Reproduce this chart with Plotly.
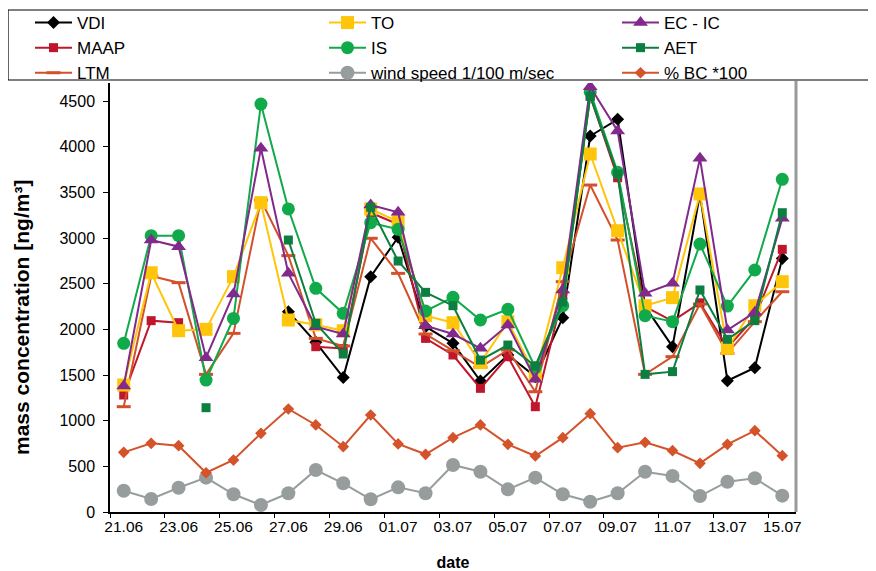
import plotly.graph_objects as go

dates = ["21.06", "22.06", "23.06", "24.06", "25.06", "26.06", "27.06", "28.06", "29.06", "30.06",
         "01.07", "02.07", "03.07", "04.07", "05.07", "06.07", "07.07", "08.07", "09.07", "10.07",
         "11.07", "12.07", "13.07", "14.07", "15.07"]

vdi = [None, None, None, None, None, None, 2193, 1858, 1474, 2577, 3008, 2029, 1847, 1434, 1719,
       1482, 2128, 4117, 4300, 2248, 1810, 3480, 1438, 1580, 2777]
to = [1390, 2620, 1985, 2000, 2577, 3387, 2102, 2050, 1985, 3318, 3179, 2150, 2073, 1635, 2084,
      1500, 2675, 3920, 3080, 2259, 2347, 3482, 1792, 2259, 2522]
ecic = [1380, 2978, 2905, 1690, 2387, 3982, 2613, 2029, 1949, 3361, 3281, 2040, 1949, 1792, 2047,
        1453, 2431, 4657, 4172, 2394, 2504, 3872, 1993, 2186, 3215]
maap = [1281, 2095, 2073, None, None, None, None, 1810, 1790, 3277, 3150, 1901, 1719, 1354, 1701,
        1153, 2370, 4555, 3660, 2250, 2090, 2290, 1800, 2130, 2876]
is_ = [1847, 3026, 3026, 1445, 2120, 4467, 3318, 2449, 2175, 3168, 3095, 2201, 2350, 2102, 2219,
       1580, 2259, 4600, 3720, 2150, 2084, 2934, 2255, 2650, 3643]
aet = [None, None, None, 1142, None, None, 2978, 2066, 1730, 3336, 2748, 2405, 2259, 1664, 1828,
       1599, 2300, 4550, 3700, 1507, 1537, 2431, 1891, 2095, 3277]
ltm = [1153, 2584, 2511, 1507, 1956, 3416, 2807, 1901, 1818, 2997, 2613, 1949, 1766, 1584, 1774,
       1317, 2522, 3580, 2978, 1507, 1701, 2277, 1737, 2084, 2412]
wind = [233, 142, 266, 376, 194, 77, 205, 460, 314, 139, 270, 205, 515, 441, 248, 376, 194, 113,
        205, 441, 394, 175, 332, 369, 179]
bc = [653, 752, 726, 430, 569, 861, 1128, 953, 715, 1062, 745, 632, 814, 953, 741, 613, 814, 1077,
      704, 763, 671, 533, 741, 890, 617]

y_ticks = [0, 500, 1000, 1500, 2000, 2500, 3000, 3500, 4000, 4500]

x = list(range(len(dates)))

# (name, data, color, symbol, size, legend column, rank) in drawing order
series = [
    ("VDI", vdi, "#000000", "diamond", 10, "legend", 1),
    ("MAAP", maap, "#C0162C", "square", 9, "legend", 2),
    ("LTM", ltm, "#D2502A", "line-ew", 10, "legend", 3),
    ("TO", to, "#FFC50A", "square", 13, "legend2", 1),
    ("IS", is_, "#10AA4A", "circle", 13, "legend2", 2),
    ("wind speed 1/100 m/sec", wind, "#979D9D", "circle", 14, "legend2", 3),
    ("EC - IC", ecic, "#82298C", "triangle-up", 13, "legend3", 1),
    ("AET", aet, "#0C7E40", "square", 9, "legend3", 2),
    ("% BC *100", bc, "#D4532A", "diamond", 9, "legend3", 3),
]

fig = go.Figure()
for name, data, color, sym, size, leg, rank in series:
    marker = dict(color=color, symbol=sym, size=size)
    if sym == "line-ew":
        marker = dict(color=color, symbol=sym, size=size, line=dict(color=color, width=3))
    fig.add_trace(go.Scatter(
        x=x, y=data, name=name, mode="lines+markers",
        line=dict(color=color, width=2), marker=marker,
        connectgaps=False, legend=leg, legendrank=rank,
    ))

# invisible trace on xaxis2 to carry the boundary tick marks
fig.add_trace(go.Scatter(x=[-0.5, 24.5], y=[None, None], xaxis="x2", showlegend=False,
                         hoverinfo="skip"))

OFF = 8  # page body margin
W, H = 876 - OFF, 571 - OFF
L, T = 110 - OFF, 83 - OFF
R = W - (796 - OFF)
B = H - (512 - OFF)
pw, ph = W - L - R, H - T - B

def px(xs):  # screenshot x -> paper x
    return (xs - OFF - L) / pw

def py(ys):  # screenshot y -> paper y
    return (H - B - (ys - OFF)) / ph

leg_common = dict(orientation="v", xanchor="left", yanchor="top", font=dict(size=17),
                  bgcolor="rgba(0,0,0,0)", borderwidth=0, itemwidth=37, tracegroupgap=0)

fig.update_layout(
    width=W, height=H,
    margin=dict(l=L, r=R, t=T, b=B, autoexpand=False),
    paper_bgcolor="white", plot_bgcolor="white",
    font=dict(family="Liberation Sans, Arial, sans-serif", size=15, color="#000000"),
    showlegend=True,
    legend=dict(x=px(30), y=py(5), **leg_common),
    legend2=dict(x=px(324), y=py(5), **leg_common),
    legend3=dict(x=px(617), y=py(5), **leg_common),
    xaxis=dict(
        range=[-0.5, 24.5], tickvals=x[::2], ticktext=dates[::2], ticks="",
        showline=True, linecolor="#000000", linewidth=1.5, showgrid=False, zeroline=False,
        tickfont=dict(size=15.5), automargin=False,
        title=dict(text="<b>date</b>", font=dict(size=16), standoff=23),
    ),
    xaxis2=dict(
        range=[-0.5, 24.5], overlaying="x", anchor="y", side="bottom",
        tickvals=[-0.5 + 2 * k for k in range(13)], ticks="outside", ticklen=5,
        tickcolor="#000000", tickwidth=1.2, showticklabels=False, showgrid=False,
        zeroline=False, showline=False, automargin=False,
    ),
    yaxis=dict(
        range=[0, ph / 0.09133], tickvals=y_ticks, ticks="outside", ticklen=5,
        tickcolor="#000000", showline=True, linecolor="#000000", linewidth=1.5,
        showgrid=False, zeroline=False, tickfont=dict(size=16), automargin=False,
        ticklabelstandoff=5,
    ),
    annotations=[
        dict(text="<b>mass concentration [ng/m³]</b>", xref="paper", yref="paper",
             x=px(21), y=py(318), xanchor="center", yanchor="middle", textangle=-90,
             showarrow=False, font=dict(size=21)),
    ],
    shapes=[
        dict(type="rect", xref="paper", yref="paper", x0=px(8), x1=px(884), y0=py(80), y1=py(10),
             line=dict(color="#000000", width=1.2), fillcolor="rgba(0,0,0,0)", layer="below"),
        dict(type="line", xref="paper", yref="paper", x0=1, x1=1, y0=0, y1=py(81),
             line=dict(color="#9A9A9A", width=3)),
    ],
)

fig.write_html("out.html")
